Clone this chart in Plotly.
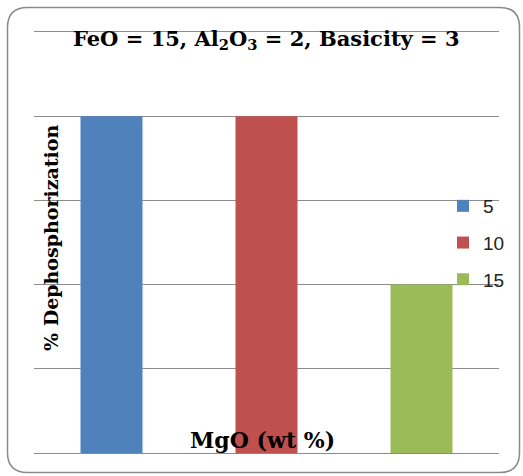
import plotly.graph_objects as go

# MgO levels (wt %) and dephosphorization values
mgo_levels = ["5", "10", "15"]
dephos = [80, 80, 40]
bar_colors = ["#4F81BD", "#C0504D", "#9BBB59"]

W, H = 523, 476
L, R, T, B = 34, 24, 32, 23
pw, ph = W - L - R, H - T - B


def px(x):
    return (x - L) / pw


def py(y):
    return (H - B - y) / ph


fig = go.Figure()
for lvl, val, col in zip(mgo_levels, dephos, bar_colors):
    fig.add_trace(go.Bar(
        x=[lvl], y=[val], name=lvl, marker_color=col,
        marker_line_width=0, width=0.4, legendgroup=lvl,
    ))

# rounded outer frame
x0, x1, y0, y1, r = 7.5, 519.5, 7.5, 472.5, 20
frame = (
    f"M {px(x0 + r)},{py(y0)} L {px(x1 - r)},{py(y0)} "
    f"Q {px(x1)},{py(y0)} {px(x1)},{py(y0 + r)} "
    f"L {px(x1)},{py(y1 - r)} Q {px(x1)},{py(y1)} {px(x1 - r)},{py(y1)} "
    f"L {px(x0 + r)},{py(y1)} Q {px(x0)},{py(y1)} {px(x0)},{py(y1 - r)} "
    f"L {px(x0)},{py(y0 + r)} Q {px(x0)},{py(y0)} {px(x0 + r)},{py(y0)} Z"
)

serif = "DejaVu Serif"

fig.update_layout(
    width=W, height=H,
    margin=dict(l=L, r=R, t=T, b=B),
    paper_bgcolor="white", plot_bgcolor="white",
    barmode="overlay",
    showlegend=True,
    legend=dict(
        x=px(443), y=py(187), xanchor="left", yanchor="top",
        font=dict(family="Liberation Sans", size=19, color="#222"),
        bgcolor="rgba(0,0,0,0)", tracegroupgap=9,
    ),
    xaxis=dict(
        showticklabels=False, ticks="", showgrid=False,
        showline=True, mirror=True, linecolor="#8c8c8c", linewidth=1.2,
        range=[-0.5, 2.5],
    ),
    yaxis=dict(
        range=[0, 100], dtick=20, showticklabels=False, ticks="",
        showgrid=True, gridcolor="#8c8c8c", gridwidth=1,
        zeroline=False, showline=False,
    ),
    shapes=[dict(type="path", xref="paper", yref="paper", path=frame,
                 line=dict(color="#8a8a8a", width=1.5), layer="above")],
    annotations=[
        dict(text="<b>FeO = 15, Al<sub>2</sub>O<sub>3</sub> = 2, Basicity = 3</b>",
             xref="paper", yref="paper", x=px(266), y=py(40),
             showarrow=False, xanchor="center", yanchor="middle",
             font=dict(family=serif, size=21, color="black")),
        dict(text="<b>% Dephosphorization</b>",
             xref="paper", yref="paper", x=px(51), y=py(238),
             showarrow=False, textangle=-90, xanchor="center", yanchor="middle",
             font=dict(family=serif, size=19, color="black")),
        dict(text="<b>MgO (wt %)</b>",
             xref="paper", yref="paper", x=px(262), y=py(440),
             showarrow=False, xanchor="center", yanchor="middle",
             font=dict(family=serif, size=22, color="black")),
    ],
)

fig.write_html("out.html")
